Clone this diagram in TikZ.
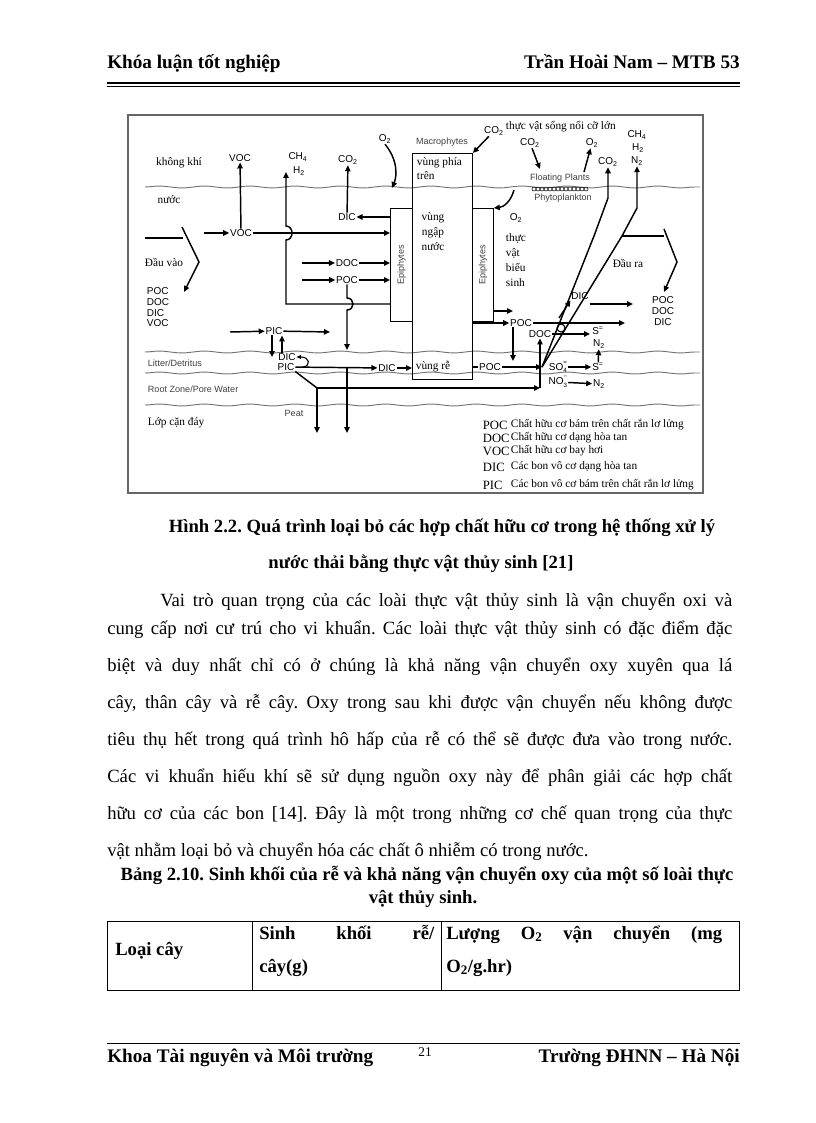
\documentclass[tikz,border=0pt]{standalone}
\usepackage{fontspec}
\setmainfont{Liberation Serif}
\setsansfont{Liberation Sans}
\usetikzlibrary{arrows.meta,positioning,calc,decorations.pathmorphing}
\newlength\pxu
\setlength\pxu{0.75pt}
\newcommand\fsz[2]{\fontsize{#1pt}{#2pt}\selectfont}
\newcommand\ionst[2]{\raisebox{-0.45ex}{\fsz{4.6}{3.6}\shortstack[l]{#1\\#2}}}
\frenchspacing

\tikzset{
  pg/.style={inner sep=0pt, font=\fsz{14}{16}},
  pgb/.style={inner sep=0pt, font=\fsz{14}{16}\bfseries},
  hdr/.style={inner sep=0pt, font=\fsz{14.4}{16}\bfseries},
  gas/.style={inner sep=0.5pt, font=\sffamily\fsz{7.5}{8}},
  tag/.style={inner sep=0.5pt, font=\sffamily\fsz{6.8}{8}, text=black!75},
  vn/.style={inner sep=0.5pt, font=\fsz{8.5}{11.2}},
  keyl/.style={inner sep=0.5pt, font=\fsz{9.5}{10}, anchor=west},
  zone/.style={draw, line width=0.6pt, inner sep=0pt, anchor=north west},
  flow/.style={line width=1.1pt, -{Triangle[length=4.5pt,width=4pt]}},
  link/.style={line width=1.1pt},
  wave/.style={draw=black!55, line width=0.7pt, decorate,
    decoration={snake, amplitude=0.7pt, segment length=34pt}},
}

\begin{document}
\begin{tikzpicture}[x=0.75pt,y=-0.75pt]
\useasboundingbox (0,0) rectangle (816,1123);

% header
\node[hdr, anchor=base west] (hdrL) at (107,69) {Khóa luận tốt nghiệp};
\node[hdr, anchor=base east] (hdrR) at (740,69) {Trần Hoài Nam – MTB 53};
\draw[line width=1.2pt] (107,83) -- (740,83);
\draw[line width=0.5pt] (107,86.5) -- (740,86.5);

% figure frame and layers
\draw[black!60, line width=1pt] (128,115) rectangle (703,493);
\foreach \y in {187,352,373,405}
  \draw[wave] (145,\y) -- (700,\y);

% plant boxes
\node[zone, minimum width=60\pxu, minimum height=226\pxu] (macro) at (412,153) {};
\node[zone, minimum width=22\pxu, minimum height=113\pxu] (epiL) at (390,208) {};
\node[zone, minimum width=21\pxu, minimum height=113\pxu] (epiR) at (472,208) {};
\node[tag, rotate=90] at (epiL.center) {Epiphytes};
\node[tag, rotate=90] at (epiR.center) {Epiphytes};
\node[vn, anchor=west] at (416,163) {vùng phía};
\node[vn, anchor=west] at (416,176) {trên};
\node[vn, align=center] (flooded) at (433,232) {vùng\\ngập\\nước};
\node[vn] (roots) at (433,367) {vùng rễ};
\node[vn, align=left, anchor=north west] (epiLbl) at (505,233) {thực\\vật\\biểu\\sinh};

% air
\node[vn] (air) at (179,163) {không khí};
\node[vn] (water) at (169,200) {nước};
\node[gas] (vocA) at (240,158) {VOC};
\node[gas] (ch4A) at (298,157) {CH\textsubscript{4}};
\node[gas] (h2A) at (299,171) {H\textsubscript{2}};
\node[gas] (co2A) at (348,160) {CO\textsubscript{2}};
\node[gas] (o2A) at (385,139) {O\textsubscript{2}};
\node[tag] (macroLbl) at (442,142) {Macrophytes};
\node[gas] (co2B) at (494,131) {CO\textsubscript{2}};
\node[vn, anchor=west] (floatLbl) at (505,127) {thực vật sống nổi cỡ lớn};
\node[gas] (co2C) at (530,143) {CO\textsubscript{2}};
\node[gas] (o2C) at (592,143) {O\textsubscript{2}};
\node[gas] (ch4C) at (637,135) {CH\textsubscript{4}};
\node[gas] (h2C) at (638,148) {H\textsubscript{2}};
\node[gas] (n2C) at (637,161) {N\textsubscript{2}};
\node[gas] (co2D) at (608,162) {CO\textsubscript{2}};
\node[tag] (floating) at (560,178) {Floating Plants};
\foreach \i in {0,...,13}
  \draw[line width=0.4pt] (534+4*\i,189) circle[radius=2\pxu];
\node[tag] (phyto) at (563,198) {Phytoplankton};
\node[gas] (o2R) at (516,218) {O\textsubscript{2}};

% water column
\node[gas] (vocW) at (241,233) {VOC};
\node[gas] (dicA) at (347,217) {DIC};
\node[vn] (inLbl) at (164,262) {Đầu vào};
\node[gas, align=left, anchor=north west] (inList) at (146,287) {POC\\DOC\\DIC\\VOC};
\node[gas] (docL) at (347,263) {DOC};
\node[gas] (pocL) at (347,280) {POC};
\node[gas] (picA) at (274,331) {PIC};
\node[gas] (dicB) at (287,357) {DIC};
\node[gas] (picB) at (286,367) {PIC};
\node[gas] (dicC) at (387,368) {DIC};
\node[gas] (pocR) at (490,367) {POC};
\node[gas] (pocU) at (521,323) {POC};
\node[gas] (docR) at (540,334) {DOC};
\node[gas] (sA) at (598,331) {S\textsuperscript{=}};
\node[gas] (n2A) at (599,344) {N\textsubscript{2}};
\node[gas] (dicD) at (580,296) {DIC};
\node[gas] (so4) at (558,367) {SO\ionst{=}{4}};
\node[gas] (sB) at (598,367) {S\textsuperscript{=}};
\node[gas] (no3) at (558,382) {NO\ionst{−}{3}};
\node[gas] (n2B) at (599,384) {N\textsubscript{2}};
\node[vn] (outLbl) at (628,263) {Đầu ra};
\node[gas, align=center] (outList) at (663,311) {POC\\DOC\\DIC};

% sediment
\node[tag, anchor=west] (litter) at (147,363) {Litter/Detritus};
\node[tag, anchor=west] (rootzone) at (147,389) {Root Zone/Pore Water};
\node[tag] (peat) at (294,413) {Peat};
\node[vn, anchor=west] (sed) at (147,423) {Lớp cặn đáy};

% free ends
\coordinate (inA) at (145,238);
\coordinate (inB) at (183,238);
\coordinate (vocIn) at (204,233);
\coordinate (ch4Top) at (286,172);
\coordinate (o2In) at (392,188);
\coordinate (o2Rtop) at (514,190);
\coordinate (fpA) at (540,169);
\coordinate (fpB) at (584,172);
\coordinate (docIn) at (302,263);
\coordinate (pocIn) at (302,280);
\coordinate (pocDn) at (347,350);
\coordinate (picIn) at (230,332);
\coordinate (picOut) at (330,332);
\coordinate (rootJ) at (317,388);
\coordinate (peatA) at (317,433);
\coordinate (peatB) at (347,433);
\coordinate (sedJ) at (540,388);
\coordinate (dJ) at (542,367);
\coordinate (epiOut) at (513,311);
\coordinate (pocOut) at (625,323);
\coordinate (docOut) at (590,334);
\coordinate (dicOut) at (633,304);
\coordinate (outA) at (622,236);

% inflow / outflow
\draw[link] (inA) -- (inB);
\draw[flow] (182,227) -- (199,262) -- (184,292);
\draw[link] (outA) -- (664,236);
\draw[flow] (664,229) -- (677,262) -- (664,292);

% arrows in the water
\draw[flow] (vocIn) -- (vocW);
\draw[flow] (vocW) -- (vocW -| epiL.west);
\draw[flow] (vocW) -- (vocA);
\draw[flow] (epiL.west |- 0,304) -- (286,304) -- (286,240)
  .. controls (294,240) and (294,226) .. (286,226) -- (ch4Top);
\draw[flow] (epiL.west |- dicA) -- (dicA);
\draw[flow] (dicA) -- (co2A);
\draw[flow] (o2A.south) .. controls (398,160) and (397,176) .. (o2In);
\draw[flow] (co2B) -- (macro.north east);
\draw[flow] (o2Rtop) .. controls (511,201) and (504,207) .. (epiR.north east);
\draw[flow] (co2C) -- (fpA);
\draw[flow] (fpB) -- (o2C);
\draw[flow] (docIn) -- (docL);
\draw[flow] (docL) -- (docL -| epiL.west);
\draw[flow] (pocIn) -- (pocL);
\draw[flow] (pocL) -- (pocL -| epiL.west);
\draw[flow] (pocL.south) -- (347,298) .. controls (355,298) and (355,310) .. (347,310) -- (pocDn);

% litter and roots
\draw[flow] (picIn) -- (picA);
\draw[flow] (picA) -- (picOut);
\draw[flow] (picA.south -| 272,0) -- (272,357);
\draw[flow] (dicB.north -| 282,0) -- (picA.south -| 282,0);
\draw[line width=0.8pt, -{Triangle[length=3.5pt,width=3pt]}] (303,367)
  .. controls (311,366) and (310,357) .. (dicB.east);
\draw[flow] (picB) -- (dicC);
\draw[flow] (dicC) -- (dicC -| macro.west);
\draw[link] (picB.south east) -- (rootJ);
\draw[flow] (rootJ) -- (peatA);
\draw[flow] (picB -| peatB) -- (peatB);
\draw[flow] (rootJ) -- (sedJ);
\draw[flow] (sedJ) -- (docR.south -| sedJ);

% right side
\draw[link] (macro.east |- pocR) -- (pocR);
\draw[flow] (pocR) -- (dJ);
\draw[flow] (epiR.east |- epiOut) -- (epiOut);
\draw[flow] (macro.east |- pocU) -- (pocU);
\draw[flow] (pocU) -- (pocOut);
\draw[flow] (pocU.south -| 513,0) -- (513,361);
\draw[flow] (docR) -- (docOut);
\draw[flow] (sB) -- (n2A);
\draw[flow] (so4) -- (sB);
\draw[flow] (no3) -- (n2B);
\draw[flow] (dJ) -- (594,236) -- (608,198) -- (co2D);
\draw[flow] (dJ) -- (622,236) -- (637,208) -- (n2C);
\draw[line width=0.8pt] (561,328) circle[radius=4\pxu];
\draw[flow] (559,318) -- (dicD.south west);
\draw[flow] (dicD.south east |- dicOut) -- (dicOut);

% legend
\foreach \y/\k/\t in {425/POC/Chất hữu cơ bám trên chất rắn lơ lửng,
    438/DOC/Chất hữu cơ dạng hòa tan,
    451/VOC/Chất hữu cơ bay hơi,
    467/DIC/Các bon vô cơ dạng hòa tan,
    485/PIC/Các bon vô cơ bám trên chất rắn lơ lửng}{
  \node[keyl] at (482,\y) {\k};
  \node[vn, anchor=west] at (510,\y) {\t};
}

% caption and text
\node[pgb, anchor=base] (capA) at (442,532) {Hình 2.2. Quá trình loại bỏ các hợp chất hữu cơ trong hệ thống xử lý};
\node[pgb, anchor=base] (capB) at (421,568) {nước thải bằng thực vật thủy sinh [21]};
\node[pg, anchor=base west] at (160,606) {\makebox[572\pxu][s]{Vai trò quan trọng của các loài thực vật thủy sinh là vận chuyển oxi và}};
\node[pg, anchor=base west] at (107,634) {\makebox[625\pxu][s]{cung cấp nơi cư trú cho vi khuẩn. Các loài thực vật thủy sinh có đặc điểm đặc}};
\node[pg, anchor=base west] at (107,671) {\makebox[625\pxu][s]{biệt và duy nhất chỉ có ở chúng là khả năng vận chuyển oxy xuyên qua lá}};
\node[pg, anchor=base west] at (107,708) {\makebox[625\pxu][s]{cây, thân cây và rễ cây. Oxy trong sau khi được vận chuyển nếu không được}};
\node[pg, anchor=base west] at (107,745) {\makebox[625\pxu][s]{tiêu thụ hết trong quá trình hô hấp của rễ có thể sẽ được đưa vào trong nước.}};
\node[pg, anchor=base west] at (107,782) {\makebox[625\pxu][s]{Các vi khuẩn hiếu khí sẽ sử dụng nguồn oxy này để phân giải các hợp chất}};
\node[pg, anchor=base west] at (107,819) {\makebox[625\pxu][s]{hữu cơ của các bon [14]. Đây là một trong những cơ chế quan trọng của thực}};
\node[pg, anchor=base west] at (107,856) {vật nhằm loại bỏ và chuyển hóa các chất ô nhiễm có trong nước.};
\node[pgb, anchor=base] (tabA) at (427,880) {Bảng 2.10. Sinh khối của rễ và khả năng vận chuyển oxy của một số loài thực};
\node[pgb, anchor=base] (tabB) at (423,903) {vật thủy sinh.};

% table
\draw[line width=0.6pt] (107,921) rectangle (739,990);
\draw[line width=0.6pt] (252,921) -- (252,990);
\draw[line width=0.6pt] (441,921) -- (441,990);
\node[pgb, anchor=base west] at (115,955) {Loại cây};
\node[pgb, anchor=base west] at (259,939) {\makebox[175\pxu][s]{Sinh khối rễ/}};
\node[pgb, anchor=base west] at (259,972) {cây(g)};
\node[pgb, anchor=base west] at (446,939) {\makebox[276\pxu][s]{Lượng O\textsubscript{2} vận chuyển (mg}};
\node[pgb, anchor=base west] at (446,972) {O\textsubscript{2}/g.hr)};

% footer
\draw[line width=0.5pt] (107,1043) -- (740,1043);
\node[hdr, anchor=base west] (ftL) at (107,1062) {Khoa Tài nguyên và Môi trường};
\node[pg, font=\fsz{10}{12}, anchor=base] (ftN) at (425,1056) {21};
\node[hdr, anchor=base east] (ftR) at (740,1062) {Trường ĐHNN – Hà Nội};
\end{tikzpicture}
\end{document}
